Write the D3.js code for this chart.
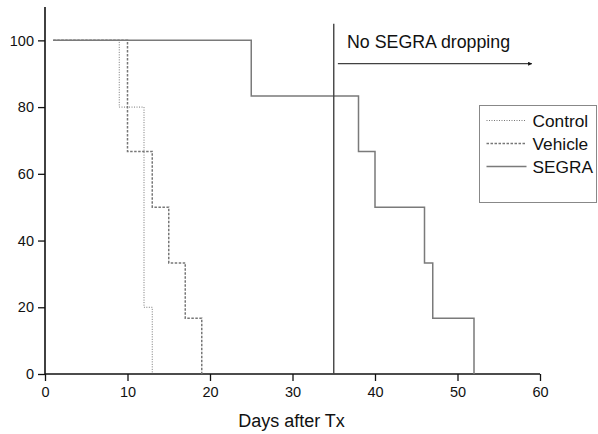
<!DOCTYPE html>
<html>
<head>
<meta charset="utf-8">
<script src="https://cdn.jsdelivr.net/npm/d3@7"></script>
<style>
  body { margin: 0; background: #fff; }
  text { font-family: "Liberation Sans", Arial, sans-serif; fill: #111; }
</style>
</head>
<body>
<div id="graph"></div>
<script>
// survival curves (days, percent alive)
const controlDays = [1, 9, 12, 13];
const controlPct = [100, 80, 20, 0];
const vehicleDays = [1, 10, 13, 15, 17, 19];
const vehiclePct = [100, 66.7, 50, 33.3, 16.7, 0];
const segraDays = [1, 25, 38, 40, 46, 47, 52];
const segraPct = [100, 83.3, 66.7, 50, 33.3, 16.7, 0];

const xTicks = [0, 10, 20, 30, 40, 50, 60];
const yTicks = [0, 20, 40, 60, 80, 100];
const legendNames = ["Control", "Vehicle", "SEGRA"];

const stopDay = 35;          // vertical marker
const stopTop = 105;
const arrowFrom = 35.5, arrowTo = 59, arrowLevel = 93;
const noteText = "No SEGRA dropping";
const xLabel = "Days after Tx";

const chart = {};
chart.width = 598;
chart.height = 434;

chart.styles = {
    Control: { stroke: "#777", width: 1, dash: "1,1.5" },
    Vehicle: { stroke: "#777", width: 1.5, dash: "2.5,1.5" },
    SEGRA:   { stroke: "#7a7a7a", width: 1.5, dash: null }
};

chart.draw = function () {
    const svg = d3.select("#graph").append("svg")
        .attr("width", chart.width)
        .attr("height", chart.height);

    const x = d3.scaleLinear().domain([0, 60]).range([45, 540]);
    const y = d3.scaleLinear().domain([0, 110]).range([374, 7]);

    // axes: major ticks with labels, minor ticks without
    const xAxis = svg.append("g").attr("transform", "translate(0,374)");
    xAxis.call(d3.axisBottom(x).tickValues(d3.range(5, 60, 10)).tickSize(4).tickFormat(""));
    xAxis.call(d3.axisBottom(x).tickValues(xTicks).tickSize(7).tickPadding(6));
    xAxis.selectAll(".domain").remove();
    svg.append("line")
        .attr("x1", x(0)).attr("x2", x(60))
        .attr("y1", y(0)).attr("y2", y(0))
        .attr("stroke", "#111").attr("stroke-width", 1.6);

    const yAxis = svg.append("g").attr("transform", "translate(45,0)");
    yAxis.call(d3.axisLeft(y).tickValues(d3.range(10, 110, 20)).tickSize(4).tickFormat(""));
    yAxis.call(d3.axisLeft(y).tickValues(yTicks).tickSize(7).tickPadding(4));
    yAxis.selectAll(".domain").remove();
    svg.append("line")
        .attr("x1", x(0)).attr("x2", x(0))
        .attr("y1", y(0)).attr("y2", y(110))
        .attr("stroke", "#111").attr("stroke-width", 1.6);

    svg.selectAll(".tick line").attr("stroke", "#111").attr("stroke-width", 1.3);
    svg.selectAll(".tick text")
        .style("font-family", '"Liberation Sans", Arial, sans-serif')
        .style("font-size", "14.5px")
        .attr("fill", "#111");

    svg.append("text")
        .attr("x", (x(0) + x(60)) / 2 - 1)
        .attr("y", 427)
        .attr("text-anchor", "middle")
        .style("font-size", "18px")
        .text(xLabel);

    // step curves
    const line = d3.line()
        .x(d => x(d[0]))
        .y(d => y(d[1]))
        .curve(d3.curveStepAfter);

    const series = [
        { name: "Control", pts: d3.zip(controlDays, controlPct) },
        { name: "Vehicle", pts: d3.zip(vehicleDays, vehiclePct) },
        { name: "SEGRA", pts: d3.zip(segraDays, segraPct) }
    ];
    svg.selectAll("path.curve")
        .data(series)
        .join("path")
        .attr("class", "curve")
        .attr("fill", "none")
        .attr("d", d => line(d.pts))
        .attr("stroke", d => chart.styles[d.name].stroke)
        .attr("stroke-width", d => chart.styles[d.name].width)
        .attr("stroke-dasharray", d => chart.styles[d.name].dash);

    // marker line + arrow + note
    svg.append("line")
        .attr("x1", x(stopDay)).attr("x2", x(stopDay))
        .attr("y1", y(0)).attr("y2", y(stopTop))
        .attr("stroke", "#444").attr("stroke-width", 1.4);

    svg.append("defs").append("marker")
        .attr("id", "head")
        .attr("viewBox", "0 0 10 10")
        .attr("refX", 9).attr("refY", 5)
        .attr("markerWidth", 6).attr("markerHeight", 4)
        .attr("orient", "auto")
        .append("path")
        .attr("d", "M0,0 L10,5 L0,10 z")
        .attr("fill", "#111");
    svg.append("line")
        .attr("x1", x(arrowFrom)).attr("x2", x(arrowTo))
        .attr("y1", y(arrowLevel)).attr("y2", y(arrowLevel))
        .attr("stroke", "#111").attr("stroke-width", 1)
        .attr("marker-end", "url(#head)");
    svg.append("text")
        .attr("x", 347)
        .attr("y", 48)
        .style("font-size", "17.8px")
        .text(noteText);

    // legend
    const lg = svg.append("g").attr("transform", "translate(479.5,105.5)");
    lg.append("rect")
        .attr("width", 117).attr("height", 97)
        .attr("fill", "#fff")
        .attr("stroke", "#888").attr("stroke-width", 1);
    const rows = lg.selectAll("g.row")
        .data(legendNames)
        .join("g")
        .attr("class", "row")
        .attr("transform", (d, i) => "translate(0," + (15 + i * 23) + ")");
    rows.append("line")
        .attr("x1", 7).attr("x2", 47)
        .attr("stroke", d => chart.styles[d].stroke)
        .attr("stroke-width", d => chart.styles[d].width)
        .attr("stroke-dasharray", d => chart.styles[d].dash);
    rows.append("text")
        .attr("x", 53)
        .attr("y", 6)
        .style("font-size", "17.3px")
        .text(d => d);
};

chart.draw();
</script>
</body>
</html>
